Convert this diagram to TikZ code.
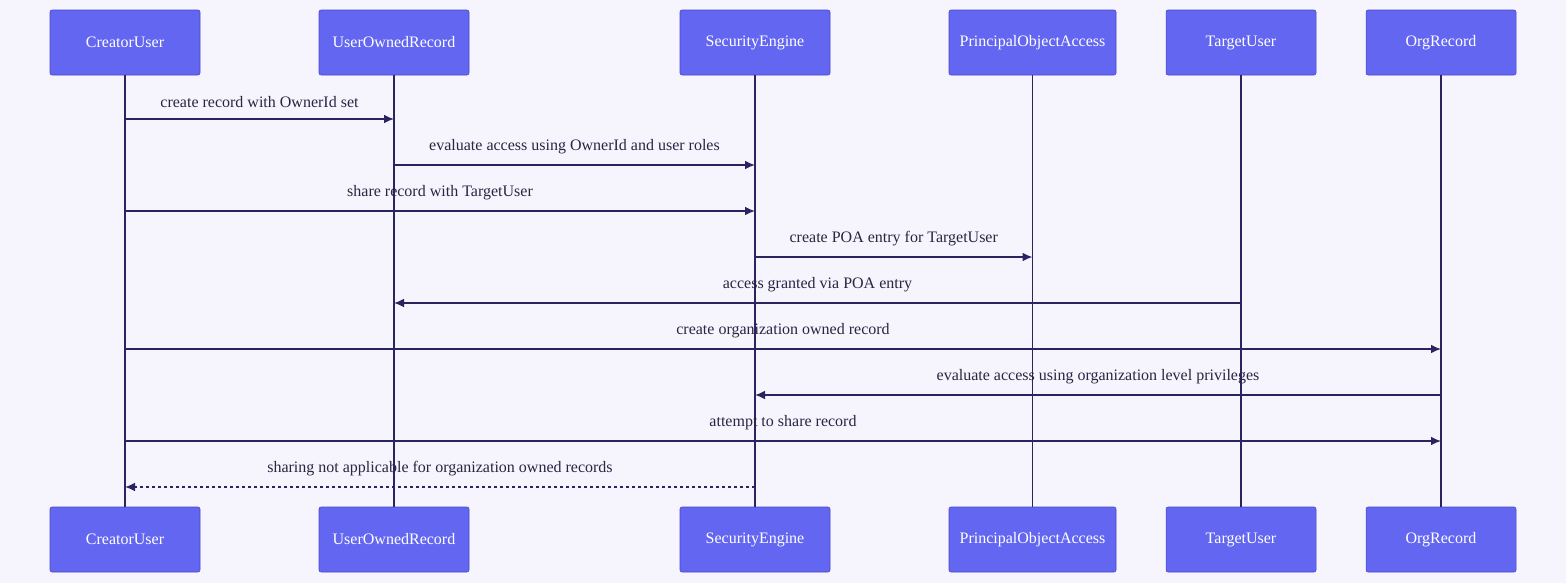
\documentclass[tikz,border=0pt]{standalone}
\usepackage{fontspec}
\setmainfont{Liberation Serif}
\usetikzlibrary{arrows.meta}
\definecolor{bg}{HTML}{F6F5FE}
\definecolor{boxf}{HTML}{6366F1}
\definecolor{boxd}{HTML}{4B44C8}
\definecolor{ln}{HTML}{2A2560}
\definecolor{txt}{HTML}{2A2540}
\begin{document}
\begin{tikzpicture}[x=0.75pt,y=-0.75pt,
  actor/.style={draw=boxd,fill=boxf,text=white,rounded corners=1.5pt,minimum height=48.75pt,inner sep=0pt,font=\fontsize{12}{14}\selectfont},
  life/.style={draw=ln,line width=1.2pt},
  msg/.style={draw=ln,line width=1pt,-{Latex[length=7.5pt,width=6.5pt]}},
  dmsg/.style={msg,dash pattern=on 2.5pt off 2pt},
  lbl/.style={text=txt,font=\fontsize{12}{14}\selectfont,inner sep=0pt}]
\fill[bg] (0,0) rectangle (1566,583);
\useasboundingbox (0,0) rectangle (1566,583);
\foreach \n/\t/\x/\w in {cu/CreatorUser/125/150, uo/UserOwnedRecord/394/150, se/SecurityEngine/755/150, po/PrincipalObjectAccess/1032.5/167, tu/TargetUser/1241/150, or/OrgRecord/1441/150}{
  \node[actor,minimum width=\w*0.75pt] (\n t) at (\x,42.5) {\t};
  \node[actor,minimum width=\w*0.75pt] (\n b) at (\x,539.5) {\t};
  \draw[life] (\n t.south) -- (\n b.north);
}
\foreach \n/\x in {cu/125,uo/394,se/755,po/1032.5,tu/1241,or/1441}{
  \foreach \i/\y in {1/119,2/165,3/211,4/257,5/303,6/349,7/395,8/441,9/487}{
    \coordinate (\n\i) at (\x,\y);
  }
}
\draw[msg] (cu1) -- node[lbl,above=8pt] {create record with OwnerId set} (uo1);
\draw[msg] (uo2) -- node[lbl,above=8pt] {evaluate access using OwnerId and user roles} (se2);
\draw[msg] (cu3) -- node[lbl,above=8pt] {share record with TargetUser} (se3);
\draw[msg] (se4) -- node[lbl,above=8pt] {create POA entry for TargetUser} (po4);
\draw[msg] (tu5) -- node[lbl,above=8pt] {access granted via POA entry} (uo5);
\draw[msg] (cu6) -- node[lbl,above=8pt] {create organization owned record} (or6);
\draw[msg] (or7) -- node[lbl,above=8pt] {evaluate access using organization level privileges} (se7);
\draw[msg] (cu8) -- node[lbl,above=8pt] {attempt to share record} (or8);
\draw[dmsg] (se9) -- node[lbl,above=8pt] {sharing not applicable for organization owned records} (cu9);
\end{tikzpicture}
\end{document}
